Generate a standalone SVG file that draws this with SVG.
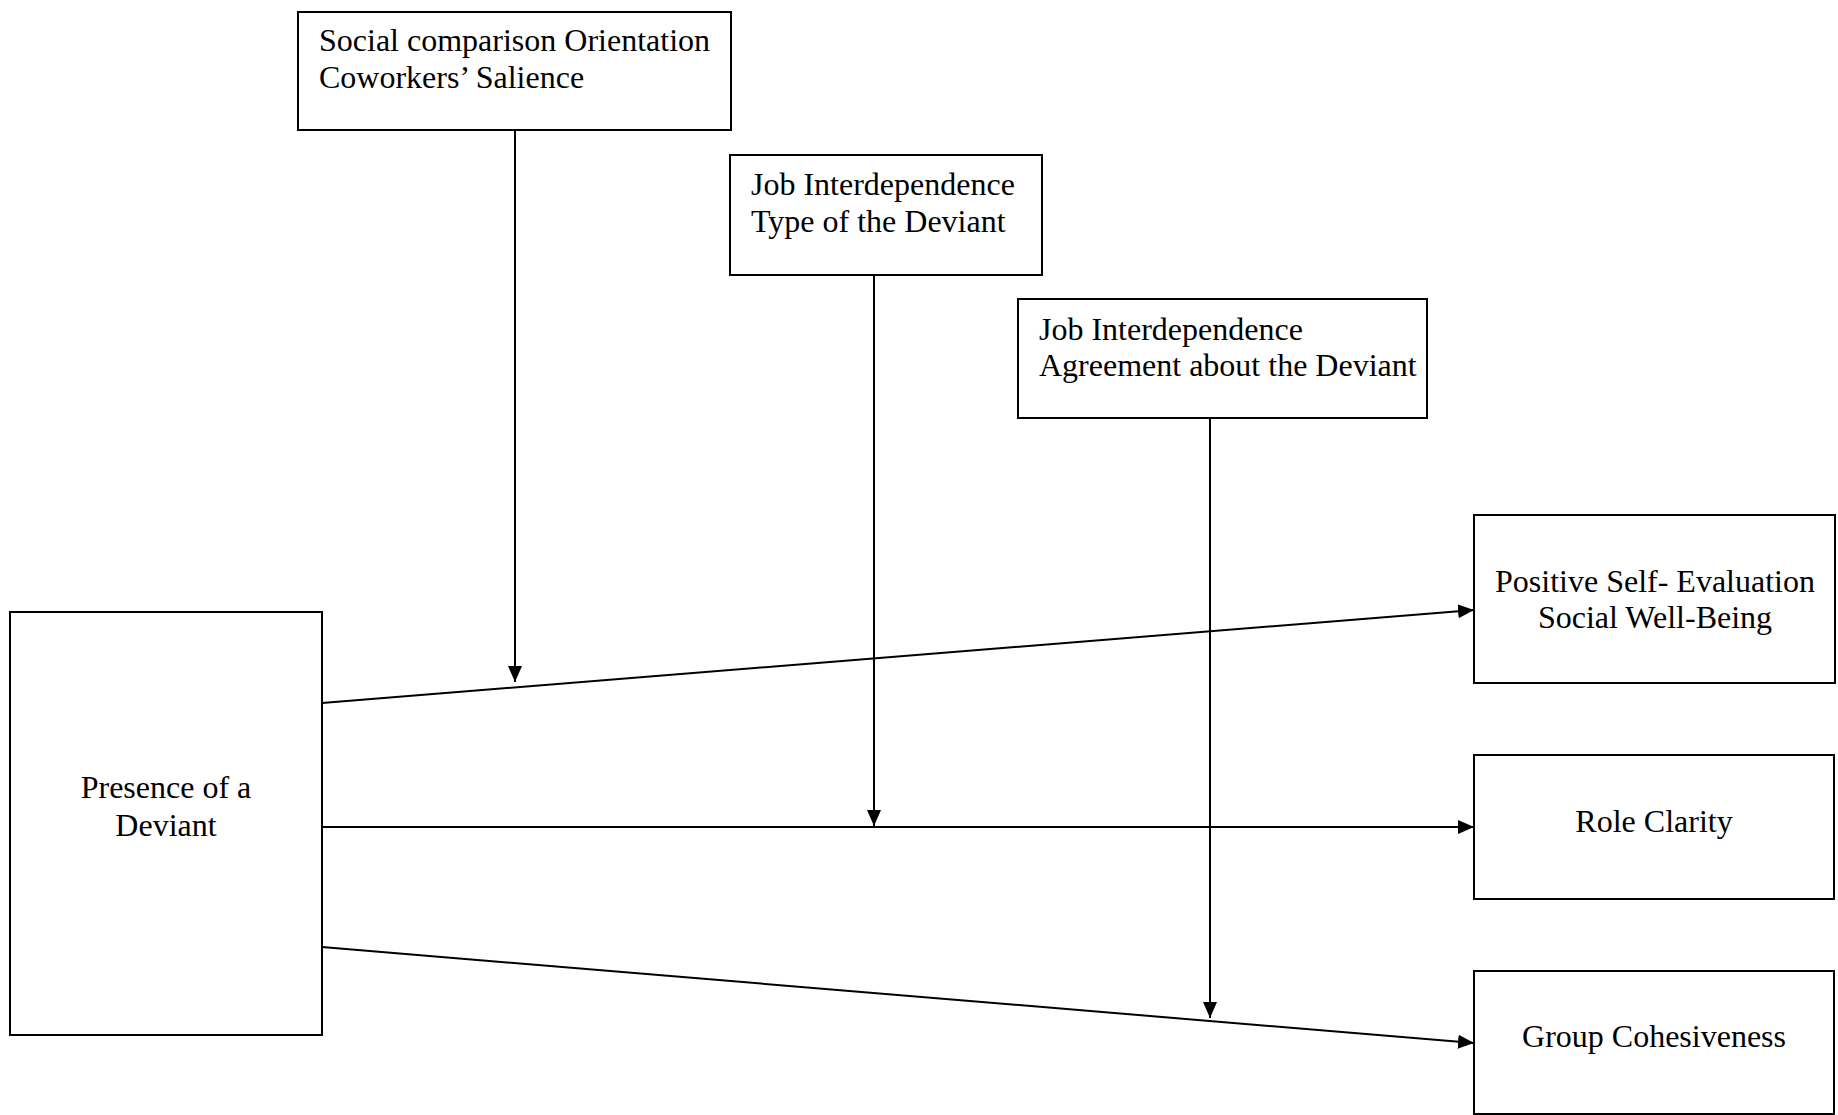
<svg xmlns="http://www.w3.org/2000/svg" width="1838" height="1115" viewBox="0 0 1838 1115">
<style>
.box{fill:#fff;stroke:#000;stroke-width:2}
.t{font-family:"Liberation Serif","Times New Roman",serif;font-size:32px;fill:#000}
.c{text-anchor:middle}
.edge{stroke:#000;stroke-width:2;fill:none;marker-end:url(#arr)}
</style>
<defs>
<marker id="arr" markerUnits="userSpaceOnUse" viewBox="0 0 16 14" refX="16" refY="7" markerWidth="16" markerHeight="14" orient="auto">
<path d="M0,0 L16,7 L0,14 Z" fill="#000"/>
</marker>
</defs>
<rect width="1838" height="1115" fill="#fff"/>
<g id="connectors">
<line class="edge" x1="515" y1="130" x2="515" y2="682"/>
<line class="edge" x1="874" y1="275" x2="874" y2="826"/>
<line class="edge" x1="1210" y1="418" x2="1210" y2="1018"/>
<line class="edge" x1="322" y1="703" x2="1474" y2="610"/>
<line class="edge" x1="322" y1="827" x2="1474" y2="827"/>
<line class="edge" x1="322" y1="947" x2="1474" y2="1043"/>
</g>
<g id="n-social">
<rect class="box" x="298" y="12" width="433" height="118"/>
<text class="t" x="319" y="51">Social comparison Orientation</text>
<text class="t" x="319" y="88">Coworkers’ Salience</text>
</g>
<g id="n-jobtype">
<rect class="box" x="730" y="155" width="312" height="120"/>
<text class="t" x="751" y="195">Job Interdependence</text>
<text class="t" x="751" y="232">Type of the Deviant</text>
</g>
<g id="n-jobagree">
<rect class="box" x="1018" y="299" width="409" height="119"/>
<text class="t" x="1039" y="340">Job Interdependence</text>
<text class="t" x="1039" y="376">Agreement about the Deviant</text>
</g>
<g id="n-presence">
<rect class="box" x="10" y="612" width="312" height="423"/>
<text class="t c" x="166" y="798">Presence of a</text>
<text class="t c" x="166" y="836">Deviant</text>
</g>
<g id="n-positive">
<rect class="box" x="1474" y="515" width="361" height="168"/>
<text class="t c" x="1655" y="592">Positive Self- Evaluation</text>
<text class="t c" x="1655" y="628">Social Well-Being</text>
</g>
<g id="n-role">
<rect class="box" x="1474" y="755" width="360" height="144"/>
<text class="t c" x="1654" y="832">Role Clarity</text>
</g>
<g id="n-group">
<rect class="box" x="1474" y="971" width="360" height="143"/>
<text class="t c" x="1654" y="1047">Group Cohesiveness</text>
</g>
</svg>
